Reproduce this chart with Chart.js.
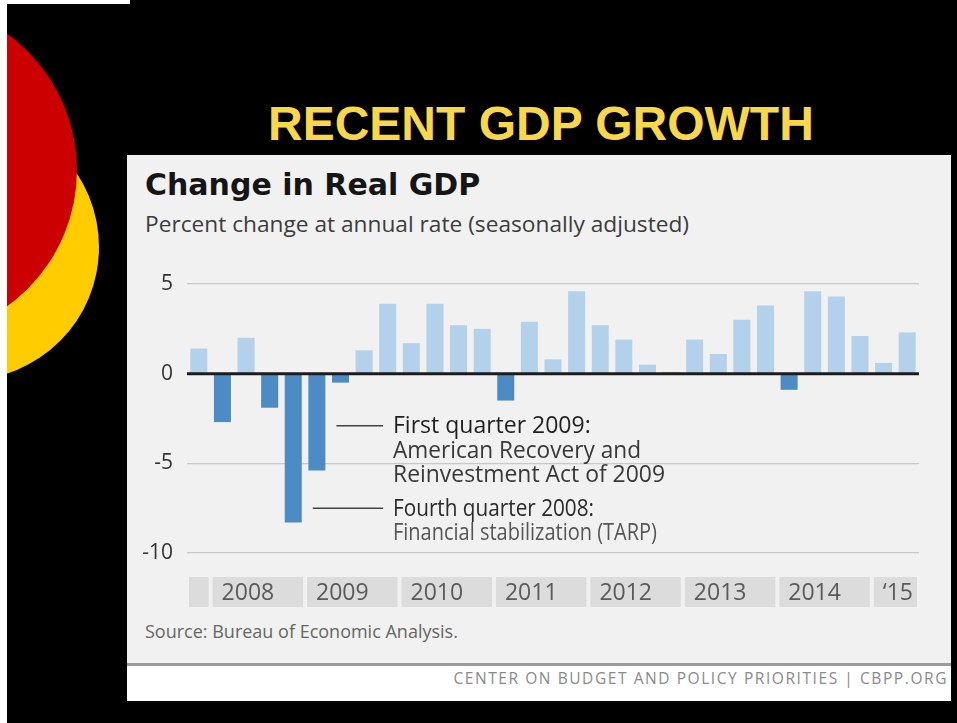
<!DOCTYPE html>
<html>
<head>
<meta charset="utf-8">
<title>Recent GDP Growth</title>
<script src="https://cdn.jsdelivr.net/npm/chart.js@4.4.1/dist/chart.umd.min.js"></script>
<style>
	html, body { margin: 0; padding: 0; }
	body {
		width: 957px; height: 723px; background: #000;
		position: relative; overflow: hidden;
		font-family: 'Open Sans', sans-serif;
	}
	.abs { position: absolute; white-space: nowrap; }
	#dotYellow { left: -167px; top: 114px; width: 266px; height: 266px; border-radius: 50%; background: #ffcc00; }
	#dotRed { left: -259px; top: 2px; width: 336px; height: 336px; border-radius: 50%; background: #cc0000; }
	#edgeLeft { left: 0; top: 0; width: 7px; height: 723px; background: #fff; }
	#edgeTop { left: 0; top: 0; width: 130px; height: 4px; background: #fff; }
	#slideTitle {
		left: 268px; top: 96px; line-height: 48px;
		font: bold 48px 'Liberation Sans', Arial, sans-serif; color: #f8d74a;
	}
	#panel { left: 127px; top: 155px; width: 824px; height: 508px; background: #f1f1f1; }
	#divider { left: 127px; top: 663px; width: 824px; height: 3px; background: #9c9c9c; }
	#footer { left: 127px; top: 666px; width: 824px; height: 35px; background: #fff; }
	#chartTitle {
		left: 145px; top: 167px; line-height: 30px;
		font: bold 30px 'DejaVu Sans', sans-serif; color: #151515;
	}
	#chartSub { left: 145px; top: 212px; line-height: 23px; font-size: 22.7px; color: #3c3c3c; }
	#source { left: 145px; top: 622px; line-height: 18px; font-size: 18px; color: #666; }
	#credit {
		left: 127px; width: 821px; top: 670px; line-height: 16px; text-align: right;
		font-size: 15.5px; letter-spacing: 1.57px; color: #8a8a8a;
	}
	#chartBox { left: 127px; top: 250px; width: 824px; height: 400px; }
</style>
</head>
<body>
<div class="abs" id="dotYellow"></div>
<div class="abs" id="dotRed"></div>
<div class="abs" id="edgeLeft"></div>
<div class="abs" id="edgeTop"></div>
<div class="abs" id="slideTitle">RECENT GDP GROWTH</div>
<div class="abs" id="panel"></div>
<div class="abs" id="divider"></div>
<div class="abs" id="footer"></div>
<div class="abs" id="chartTitle">Change in Real GDP</div>
<div class="abs" id="chartSub">Percent change at annual rate (seasonally adjusted)</div>
<div class="abs" id="source">Source: Bureau of Economic Analysis.</div>
<div class="abs" id="credit">CENTER ON BUDGET AND POLICY PRIORITIES | CBPP.ORG</div>
<div class="abs" id="chartBox"><canvas id="chart" width="824" height="400"></canvas></div>

<script>
// quarterly real GDP change, annual rate, %
const quarters = [
	'2007 Q4',
	'2008 Q1', '2008 Q2', '2008 Q3', '2008 Q4',
	'2009 Q1', '2009 Q2', '2009 Q3', '2009 Q4',
	'2010 Q1', '2010 Q2', '2010 Q3', '2010 Q4',
	'2011 Q1', '2011 Q2', '2011 Q3', '2011 Q4',
	'2012 Q1', '2012 Q2', '2012 Q3', '2012 Q4',
	'2013 Q1', '2013 Q2', '2013 Q3', '2013 Q4',
	'2014 Q1', '2014 Q2', '2014 Q3', '2014 Q4',
	'2015 Q1', '2015 Q2',
];
const gdpChange = [
	1.4,
	-2.7, 2.0, -1.9, -8.3,
	-5.4, -0.5, 1.3, 3.9,
	1.7, 3.9, 2.7, 2.5,
	-1.5, 2.9, 0.8, 4.6,
	2.7, 1.9, 0.5, 0.1,
	1.9, 1.1, 3.0, 3.8,
	-0.9, 4.6, 4.3, 2.1,
	0.6, 2.3,
];
const years = ['2007', '2008', '2009', '2010', '2011', '2012', '2013', '2014', '2015'];
const yearLabels = ['', '2008', '2009', '2010', '2011', '2012', '2013', '2014', '\u201815'];
const yTicks = [5, 0, -5, -10];

// callout text; fit = squeeze a line to the width it takes in the original
const notes = [
	{
		index: 5, at: -2.9,
		lines: ['First quarter 2009:', 'American Recovery and', 'Reinvestment Act of 2009'],
		colors: ['#1f1f1f', '#383838', '#383838'],
		fit: [204, 248, 272],
	},
	{
		index: 4, at: -7.5,
		lines: ['Fourth quarter 2008:', 'Financial stabilization (TARP)'],
		colors: ['#2a2a2a', '#555'],
		fit: [201, 264],
	},
];

const zeroLine = {
	id: 'zeroLine',
	afterDatasetsDraw(chart) {
		const { ctx, chartArea, scales } = chart;
		const y = scales.y.getPixelForValue(0);
		ctx.save();
		ctx.strokeStyle = '#1c1c1c';
		ctx.lineWidth = 3;
		ctx.beginPath();
		ctx.moveTo(chartArea.left, y);
		ctx.lineTo(chartArea.right, y);
		ctx.stroke();
		ctx.restore();
	},
};

const yearBand = {
	id: 'yearBand',
	afterDraw(chart) {
		const { ctx, chartArea, scales } = chart;
		const x = scales.x;
		const step = x.width / quarters.length;
		const top = chartArea.bottom + 24;
		const h = 30;
		ctx.save();
		ctx.font = '23px "Open Sans"';
		ctx.textAlign = 'left';
		ctx.textBaseline = 'middle';
		years.forEach((yr, i) => {
			const idx = [];
			quarters.forEach((q, j) => { if (q.startsWith(yr)) idx.push(j); });
			const left = x.getPixelForValue(idx[0]) - step / 2 + 2;
			const right = x.getPixelForValue(idx[idx.length - 1]) + step / 2 - 2;
			ctx.fillStyle = '#dcdcdc';
			ctx.fillRect(left, top, right - left, h);
			ctx.fillStyle = '#5a5a5a';
			ctx.fillText(yearLabels[i], left + 9, top + h / 2 + 1);
		});
		ctx.restore();
	},
};

const callouts = {
	id: 'callouts',
	afterDraw(chart) {
		const { ctx, chartArea, scales } = chart;
		const bars = chart.getDatasetMeta(0).data;
		const textX = chartArea.left + 206;
		ctx.save();
		ctx.font = '23px "Open Sans"';
		ctx.textAlign = 'left';
		ctx.textBaseline = 'alphabetic';
		notes.forEach(n => {
			const bar = bars[n.index];
			const y = scales.y.getPixelForValue(n.at);
			ctx.strokeStyle = '#444';
			ctx.lineWidth = 1.5;
			ctx.beginPath();
			ctx.moveTo(bar.x + bar.width / 2 + 11, y);
			ctx.lineTo(textX - 10, y);
			ctx.stroke();
			n.lines.forEach((t, k) => {
				ctx.fillStyle = n.colors[k];
				ctx.fillText(t, textX, y + 7.5 + k * 24.5, n.fit[k]);
			});
		});
		ctx.restore();
	},
};

const config = {
	type: 'bar',
	data: {
		labels: quarters,
		datasets: [
			{
				label: 'Change in Real GDP',
				data: gdpChange,
				backgroundColor: gdpChange.map(v => (v < 0 ? '#4d8bc4' : '#b3d1ea')),
				barPercentage: 0.72,
				categoryPercentage: 1,
			},
		],
	},
	options: {
		responsive: false,
		animation: false,
		layout: { padding: { top: 34, right: 32, bottom: 97, left: 0 } },
		plugins: {
			legend: { display: false },
			tooltip: { enabled: false },
		},
		scales: {
			x: { display: false },
			y: {
				min: -10,
				max: 5,
				afterFit: s => { s.width = 60; },
				afterBuildTicks: s => { s.ticks = yTicks.map(v => ({ value: v })); },
				border: { display: false },
				grid: {
					drawTicks: false,
					color: c => (c.tick.value === 0 ? 'rgba(0,0,0,0)' : '#c8c8c8'),
					lineWidth: 1.2,
				},
				ticks: {
					padding: 14,
					color: '#333',
					font: { family: 'Open Sans', size: 21 },
				},
			},
		},
	},
	plugins: [zeroLine, yearBand, callouts],
};

function renderChart() {
	const chartCanvas = document.getElementById('chart');
	new Chart(chartCanvas, config);
}

renderChart();
</script>
</body>
</html>
